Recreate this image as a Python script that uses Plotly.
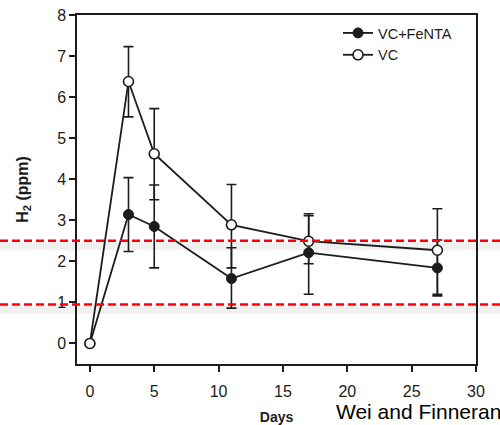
import plotly.graph_objects as go

# Sampling days and H2 concentrations (ppm) for the two treatments
days = [0, 3, 5, 11, 17, 27]

vc_fenta = [0, 3.14, 2.85, 1.58, 2.21, 1.84]
vc_fenta_err_up = [0, 0.90, 1.01, 0.75, 0.95, 0.68]
vc_fenta_err_down = [0, 0.90, 1.01, 0.72, 1.01, 0.68]

vc = [0, 6.38, 4.62, 2.89, 2.49, 2.27]
vc_err_up = [0, 0.85, 1.10, 0.98, 0.62, 1.01]
vc_err_down = [0, 0.86, 1.12, 1.05, 0.55, 1.07]

# Horizontal reference levels (ppm)
ref_levels = [2.5, 0.95]

x_ticks = [0, 5, 10, 15, 20, 25, 30]
y_ticks = [0, 1, 2, 3, 4, 5, 6, 7, 8]

INK = "#1c1c1c"
FONT = "Arial, Liberation Sans, sans-serif"

fig = go.Figure()

fig.add_trace(go.Scatter(
    x=days, y=vc_fenta, name="VC+FeNTA", mode="lines+markers",
    line=dict(color=INK, width=1.8),
    marker=dict(symbol="circle", size=10, color=INK, line=dict(color=INK, width=1)),
    error_y=dict(type="data", symmetric=False, array=vc_fenta_err_up,
                 arrayminus=vc_fenta_err_down, color=INK, thickness=1.6, width=5),
))

fig.add_trace(go.Scatter(
    x=days, y=vc, name="VC", mode="lines+markers",
    line=dict(color=INK, width=1.8),
    marker=dict(symbol="circle", size=10, color="white", line=dict(color=INK, width=1.6)),
    error_y=dict(type="data", symmetric=False, array=vc_err_up,
                 arrayminus=vc_err_down, color=INK, thickness=1.6, width=5),
))

# Red dashed reference lines running across the whole figure, with a soft shadow
left_px, right_px, plot_w, plot_h = 77, 24, 399, 349
x_lo = -left_px / plot_w
x_hi = 1 + right_px / plot_w
for lvl in ref_levels:
    fig.add_shape(type="line", xref="paper", yref="y", x0=x_lo, x1=x_hi,
                  y0=lvl - 0.13, y1=lvl - 0.13, layer="below",
                  line=dict(color="rgba(0,0,0,0.06)", width=8))
    fig.add_shape(type="line", xref="paper", yref="y", x0=x_lo, x1=x_hi,
                  y0=lvl, y1=lvl, layer="above",
                  line=dict(color="#ff0000", width=2.5, dash="8px,4px"))

fig.add_annotation(
    text="Wei and Finneran", xref="paper", yref="paper",
    x=(334 - left_px) / plot_w, y=(364 - 411) / plot_h,
    xanchor="left", yanchor="middle", showarrow=False,
    font=dict(family=FONT, size=21, color="black"),
)

fig.update_layout(
    width=500, height=425,
    margin=dict(l=left_px, r=right_px, t=15, b=61),
    paper_bgcolor="white", plot_bgcolor="white",
    font=dict(family=FONT, color=INK),
    showlegend=True,
    legend=dict(
        x=(338 - left_px) / plot_w, y=(364 - 17) / plot_h,
        xanchor="left", yanchor="top",
        bgcolor="rgba(0,0,0,0)", borderwidth=0,
        font=dict(family=FONT, size=14.5, color=INK),
        tracegroupgap=0,
    ),
    xaxis=dict(
        range=[-1, 30], tickmode="array", tickvals=x_ticks,
        ticks="outside", ticklen=6, tickwidth=1.5, tickcolor=INK,
        showline=True, linecolor=INK, linewidth=1.5, mirror=True,
        showgrid=False, zeroline=False, ticklabelstandoff=6, automargin=False,
        tickfont=dict(family=FONT, size=16, color=INK),
        title=dict(text="<b>Days</b>", font=dict(family=FONT, size=14, color=INK),
                   standoff=14),
    ),
    yaxis=dict(
        range=[-0.5, 8], tickmode="array", tickvals=y_ticks,
        ticks="outside", ticklen=6, tickwidth=1.5, tickcolor=INK,
        showline=True, linecolor=INK, linewidth=1.5, mirror=True,
        showgrid=False, zeroline=False, automargin=False,
        tickfont=dict(family=FONT, size=16, color=INK),
        title=dict(text="<b>H<sub>2</sub> (ppm)</b>",
                   font=dict(family=FONT, size=16, color=INK), standoff=25),
    ),
)

fig.write_html("out.html")
